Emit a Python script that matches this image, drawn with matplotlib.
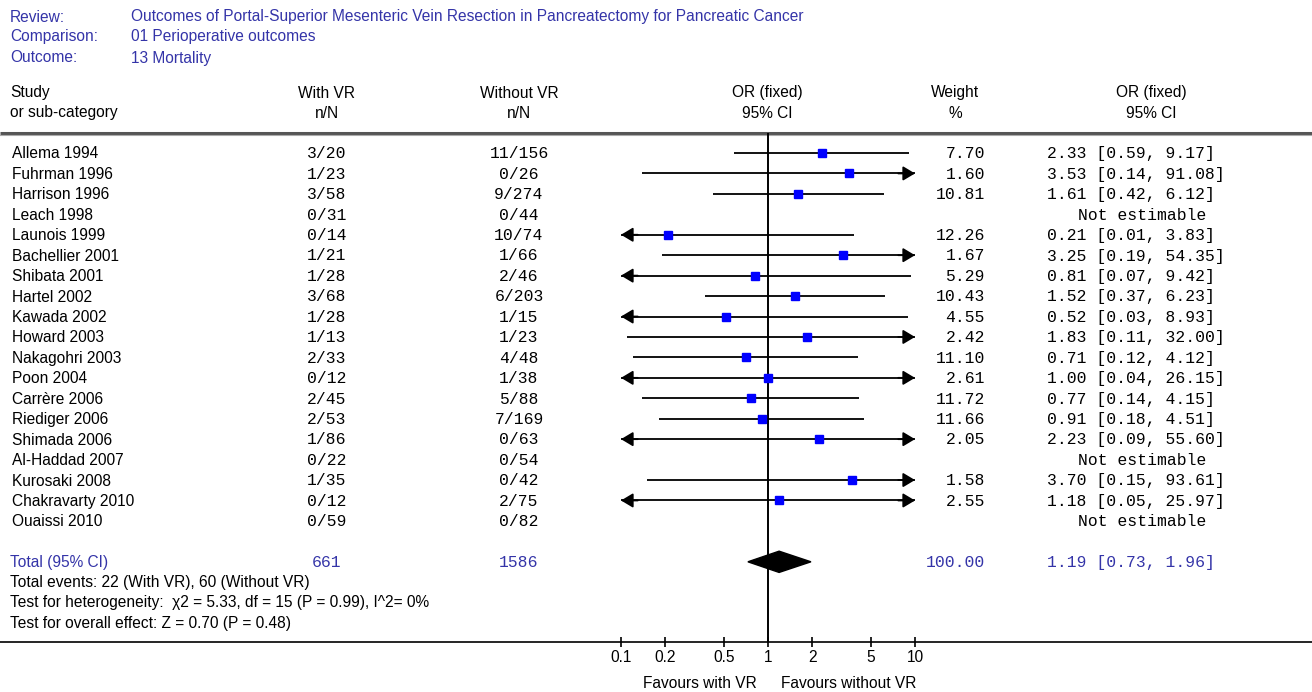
import numpy as np
import matplotlib
matplotlib.use("Agg")
import matplotlib.pyplot as plt
from matplotlib.patches import Polygon

# ---------------- data ----------------
review = "Outcomes of Portal-Superior Mesenteric Vein Resection in Pancreatectomy for Pancreatic Cancer"
comparison = "01 Perioperative outcomes"
outcome = "13 Mortality"

studies = ["Allema 1994", "Fuhrman 1996", "Harrison 1996", "Leach 1998", "Launois 1999",
           "Bachellier 2001", "Shibata 2001", "Hartel 2002", "Kawada 2002", "Howard 2003",
           "Nakagohri 2003", "Poon 2004", "Carrère 2006", "Riediger 2006", "Shimada 2006",
           "Al-Haddad 2007", "Kurosaki 2008", "Chakravarty 2010", "Ouaissi 2010"]
events_vr = [3, 1, 3, 0, 0, 1, 1, 3, 1, 1, 2, 0, 2, 2, 1, 0, 1, 0, 0]
total_vr = [20, 23, 58, 31, 14, 21, 28, 68, 28, 13, 33, 12, 45, 53, 86, 22, 35, 12, 59]
events_no = [11, 0, 9, 0, 10, 1, 2, 6, 1, 1, 4, 1, 5, 7, 0, 0, 0, 2, 0]
total_no = [156, 26, 274, 44, 74, 66, 46, 203, 15, 23, 48, 38, 88, 169, 63, 54, 42, 75, 82]
weights = [7.70, 1.60, 10.81, None, 12.26, 1.67, 5.29, 10.43, 4.55, 2.42,
           11.10, 2.61, 11.72, 11.66, 2.05, None, 1.58, 2.55, None]
or_vals = [2.33, 3.53, 1.61, None, 0.21, 3.25, 0.81, 1.52, 0.52, 1.83,
           0.71, 1.00, 0.77, 0.91, 2.23, None, 3.70, 1.18, None]
ci_lo = [0.59, 0.14, 0.42, None, 0.01, 0.19, 0.07, 0.37, 0.03, 0.11,
         0.12, 0.04, 0.14, 0.18, 0.09, None, 0.15, 0.05, None]
ci_hi = [9.17, 91.08, 6.12, None, 3.83, 54.35, 9.42, 6.23, 8.93, 32.00,
         4.12, 26.15, 4.15, 4.51, 55.60, None, 93.61, 25.97, None]
total_or, total_lo, total_hi = 1.19, 0.73, 1.96
total_weight = 100.00
x_ticks = [0.1, 0.2, 0.5, 1, 2, 5, 10]
x_tick_labels = ["0.1", "0.2", "0.5", "1", "2", "5", "10"]
stats_lines = ["Total events: 22 (With VR), 60 (Without VR)",
               "Test for heterogeneity:  \u03c72 = 5.33, df = 15 (P = 0.99), I^2= 0%",
               "Test for overall effect: Z = 0.70 (P = 0.48)"]

# ---------------- layout ----------------
W, H = 1312, 692
SANS = ["Liberation Sans", "DejaVu Sans"]
MONO = ["Liberation Mono", "DejaVu Sans Mono"]
BLUE = "#3434a8"
FS = 11.2
FM = 11.8
BS = 5.5   # baseline offset (px) for sans text
BM = 5.3   # baseline offset (px) for mono text

fig = plt.figure(figsize=(W / 100, H / 100), dpi=100)
ax = fig.add_axes([0, 0, 1, 1])
ax.set_xlim(0, W)
ax.set_ylim(H, 0)
ax.axis("off")

row0, step = 153, 20.44
line_top, line_bot = 133, 642
fx0, fx1 = 621, 915


def row_y(i):
    return row0 + i * step


def stext(x, y, s, **kw):
    ax.text(x, y + BS, s, fontsize=FS, family=SANS, va="baseline", **kw)


def mtext(x, y, s, **kw):
    ax.text(x, y + BM, s, fontsize=FM, family=MONO, va="baseline", **kw)


# header
for y, lab, val in [(16, "Review:", review), (36, "Comparison:", comparison), (57, "Outcome:", outcome)]:
    stext(10, y, lab, color=BLUE)
    stext(131, y, val, color=BLUE)

hdr = [(10, "Study", "or sub-category", "left"), (327, "With VR", "n/N", "center"),
       (519, "Without VR", "n/N", "center"), (767, "OR (fixed)", "95% CI", "center"),
       (955, "Weight", "%", "center"), (1151, "OR (fixed)", "95% CI", "center")]
for x, a, b, ha in hdr:
    stext(x, 92, a, ha=ha)
    stext(x, 112, b, ha=ha)

ax.plot([0, W], [line_top, line_top], color="#555555", lw=2.2, solid_capstyle="butt")
ax.plot([0, W], [line_top + 1.8, line_top + 1.8], color="#aaaaaa", lw=0.8)
ax.plot([0, W], [line_bot, line_bot], color="black", lw=1.2)

# study rows (text)
for i, s in enumerate(studies):
    y = row_y(i)
    stext(12, y, s)
    mtext(327, y, f"{events_vr[i]}/{total_vr[i]}", ha="center")
    mtext(519, y, f"{events_no[i]}/{total_no[i]}", ha="center")
    if or_vals[i] is None:
        mtext(1142, y, "Not estimable", ha="center")
    else:
        mtext(985, y, f"{weights[i]:.2f}", ha="right")
        mtext(1047, y, f"{or_vals[i]:.2f} [{ci_lo[i]:.2f}, {ci_hi[i]:.2f}]", ha="left")

# totals
ty = row_y(len(studies) + 1)
stext(10, ty, "Total (95% CI)", color=BLUE)
mtext(327, ty, f"{sum(total_vr)}", color=BLUE, ha="center")
mtext(519, ty, f"{sum(total_no)}", color=BLUE, ha="center")
mtext(985, ty, f"{total_weight:.2f}", color=BLUE, ha="right")
mtext(1047, ty, f"{total_or:.2f} [{total_lo:.2f}, {total_hi:.2f}]", color=BLUE, ha="left")
for k, s in enumerate(stats_lines):
    stext(10, ty + 19.5 + k * 20.5, s)

stext(757, 682, "Favours with VR", ha="right")
stext(781, 682, "Favours without VR", ha="left")

# ---------------- forest axes ----------------
fa = fig.add_axes([fx0 / W, (H - line_bot) / H, (fx1 - fx0) / W, (line_bot - line_top) / H])
fa.patch.set_alpha(0)
fa.set_xscale("log")
fa.set_xlim(0.1, 10)
fa.set_ylim((line_bot - row0) / step, (line_top - row0) / step)
for sp in fa.spines.values():
    sp.set_visible(False)
fa.set_yticks([])
fa.set_xticks(x_ticks)
fa.set_xticklabels(x_tick_labels, fontsize=FS, family=SANS)
fa.xaxis.set_minor_locator(matplotlib.ticker.NullLocator())
fa.tick_params(axis="x", direction="inout", length=7, width=1.2, pad=2)

fa.axvline(1, color="black", lw=1.4, zorder=2)

ARROW = dict(arrowstyle="-|>,head_length=0.6,head_width=0.36", mutation_scale=12,
             lw=1.3, color="black", shrinkA=0, shrinkB=0)
xmin, xmax = 0.1, 10
for i in range(len(studies)):
    if or_vals[i] is None:
        continue
    lo, hi = ci_lo[i], ci_hi[i]
    a, b = max(lo, xmin), min(hi, xmax)
    fa.plot([a, b], [i, i], color="black", lw=1.3, zorder=3, solid_capstyle="butt")
    if lo < xmin:
        fa.annotate("", xy=(xmin, i), xytext=(xmin * 1.3, i), annotation_clip=False,
                    arrowprops=ARROW, zorder=3)
    if hi > xmax:
        fa.annotate("", xy=(xmax, i), xytext=(xmax / 1.3, i), annotation_clip=False,
                    arrowprops=ARROW, zorder=3)
    fa.plot(or_vals[i], i, marker="s", markersize=6, color="#0000ff",
            markeredgecolor="#0000ff", zorder=4, linestyle="none")

trow = len(studies) + 1
h = 0.52
diamond = Polygon([(total_lo, trow), (total_or, trow - h), (total_hi, trow), (total_or, trow + h)],
                  closed=True, facecolor="black", edgecolor="black", zorder=4)
fa.add_patch(diamond)

fig.savefig("out.png", dpi=100)
